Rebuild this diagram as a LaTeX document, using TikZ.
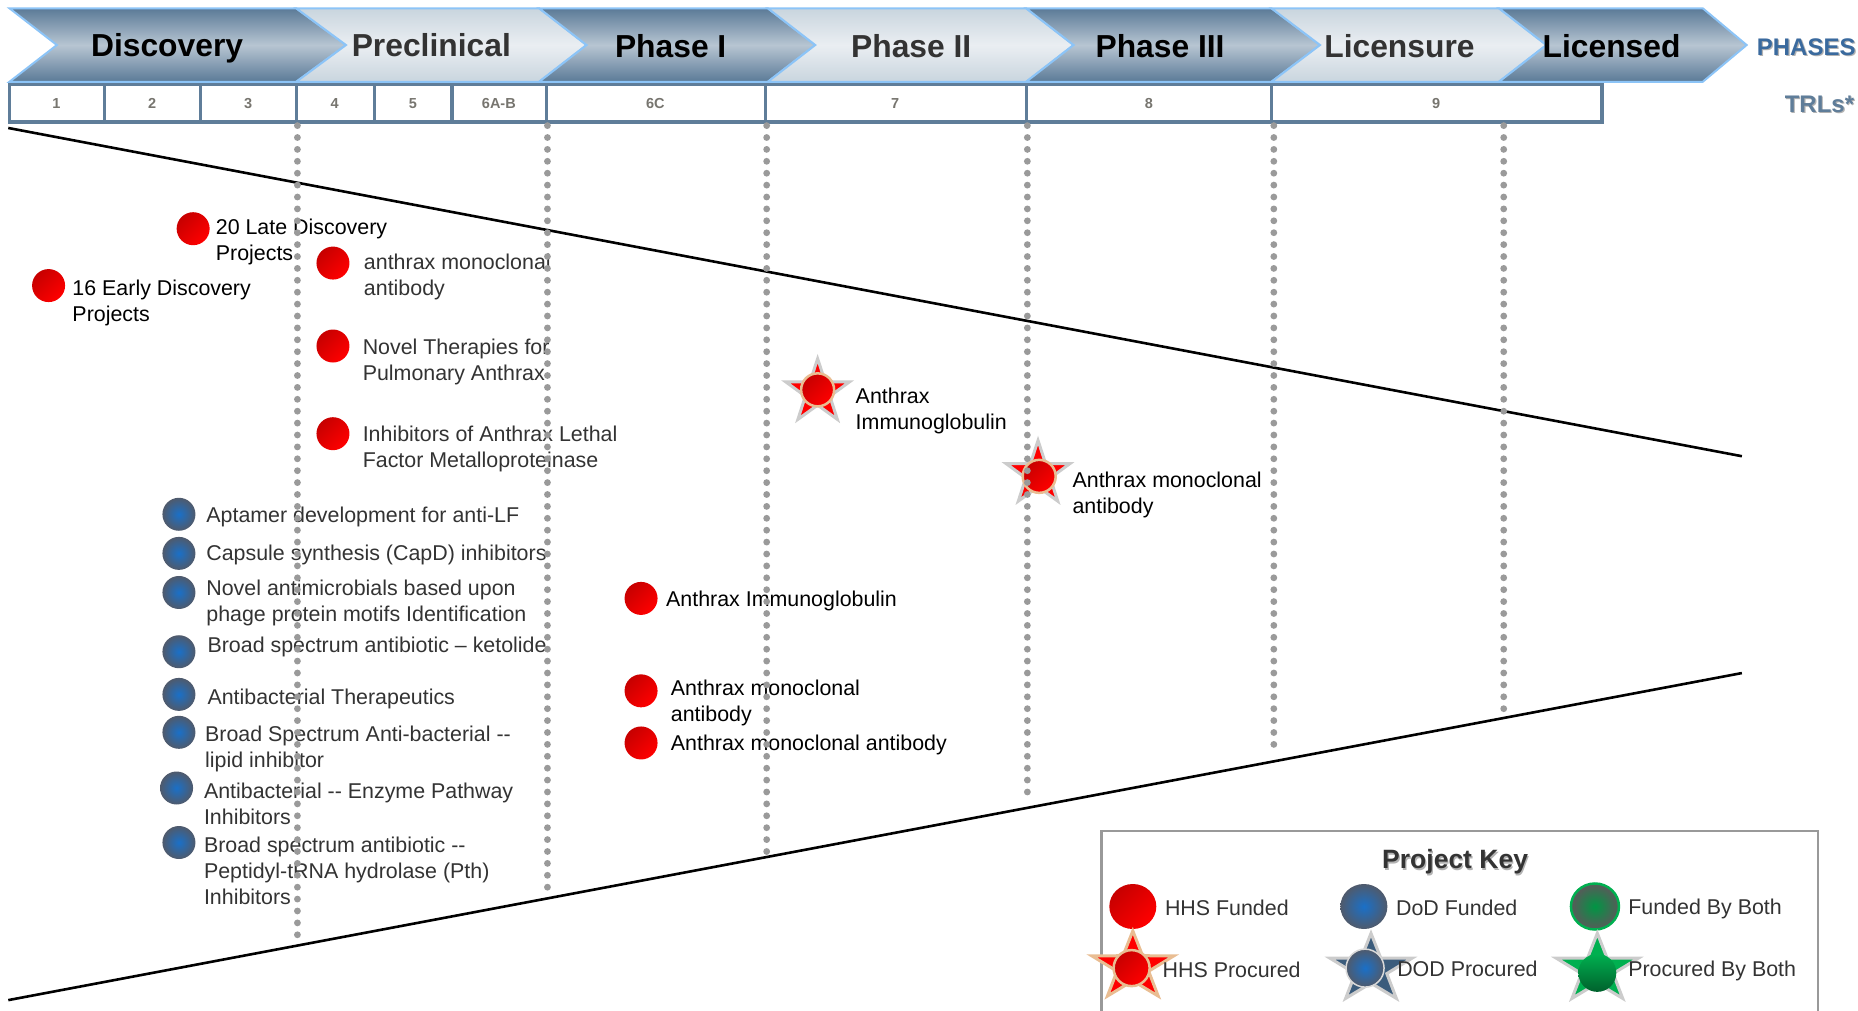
\documentclass[tikz,border=0pt]{standalone}
\usepackage{fontspec}
\setmainfont{Liberation Sans}
\usetikzlibrary{shapes.geometric}
\definecolor{chevdark}{HTML}{5B7A97}
\definecolor{chevmid}{HTML}{B7C5D2}
\definecolor{chevlt}{HTML}{C9D5DE}
\definecolor{chevltmid}{HTML}{EAEEF2}
\definecolor{chevedge}{HTML}{8CC4F7}
\definecolor{trledge}{HTML}{5F7D99}
\definecolor{trltxt}{HTML}{77756F}
\definecolor{dotgray}{HTML}{9A9A9A}
\definecolor{txtdk}{HTML}{333333}
\definecolor{tan}{HTML}{E9BD92}
\definecolor{starblue}{HTML}{3B5C7C}
\definecolor{bothgreen}{HTML}{00B050}
\definecolor{ballblue}{HTML}{1A70C8}
\definecolor{ballrim}{HTML}{4F5A6C}
\definecolor{phaseblue}{HTML}{3A6A9E}
\tikzset{
  x=1.185pt,y=-1.185pt,
  darkchev/.style={draw=chevedge,line width=2pt,line join=miter,top color=chevdark,bottom color=chevdark,middle color=chevmid},
  lightchev/.style={draw=chevedge,line width=2pt,line join=miter,top color=chevlt,bottom color=chevlt,middle color=chevltmid},
  phasetxt/.style={inner sep=0pt,font=\fontsize{31.8}{36}\selectfont\bfseries,text=black},
  phasetxtlt/.style={phasetxt,text=txtdk},
  trlbox/.style={draw=trledge,line width=3.2pt,fill=white},
  trlnum/.style={inner sep=0pt,font=\fontsize{14.5}{16}\selectfont\bfseries,text=trltxt},
  sideshadow/.style={inner sep=0pt,anchor=west,font=\fontsize{24}{28}\selectfont\bfseries,text=black!30},
  sidelabel/.style={inner sep=0pt,anchor=west,font=\fontsize{24}{28}\selectfont\bfseries},
  label/.style={inner sep=0pt,anchor=west,align=left,font=\fontsize{21.4}{26}\selectfont,text=black},
  labeldk/.style={label,text=txtdk},
  redball/.style={circle,inner sep=0pt,minimum size=33pt,left color=red!78!black,right color=red,shading angle=45},
  blueball/.style={circle,inner sep=0pt,minimum size=33pt,inner color=ballblue,outer color=ballrim},
  starmark/.style={star,star points=5,star point ratio=2.6,inner sep=0pt,minimum size=67pt,line width=3pt,line join=miter},
  redstar/.style={starmark,fill=red,draw=black!20},
  starball/.style={redball,draw=tan,line width=2.5pt,minimum size=33pt},
  lstar/.style={star,star points=5,star point ratio=2.6,inner sep=0pt,minimum size=72pt,line width=3pt,transform shape,xscale=1.2},
  keytxt/.style={label,text=txtdk},
  guide/.style={draw=dotgray,line width=6.8pt,line cap=round,dash pattern=on 0pt off 11.9pt},
  taper/.style={draw=black,line width=2.6pt},
}
\begin{document}
\begin{tikzpicture}
\useasboundingbox[fill=white] (0,0) rectangle (1568,853);
% phase chevrons
\path[darkchev] (8,7)--(250,7)--(292,38)--(250,69)--(8,69)--(48,38)--cycle;
\path[lightchev] (250,7)--(455,7)--(495,38)--(455,69)--(250,69)--(292,38)--cycle;
\path[darkchev] (455,7)--(648,7)--(688,38)--(648,69)--(455,69)--(495,38)--cycle;
\path[lightchev] (648,7)--(866,7)--(906,38)--(866,69)--(648,69)--(688,38)--cycle;
\path[darkchev] (866,7)--(1073,7)--(1114,38)--(1073,69)--(866,69)--(906,38)--cycle;
\path[lightchev] (1073,7)--(1265,7)--(1305,38)--(1265,69)--(1073,69)--(1114,38)--cycle;
\path[darkchev] (1265,7)--(1437,7)--(1474,38)--(1437,69)--(1265,69)--(1305,38)--cycle;
\node[phasetxt] (pDiscovery) at (141,40.5) {Discovery};
\node[phasetxtlt] (pPreclinical) at (364,38) {Preclinical};
\node[phasetxt] (pOne) at (566,39) {Phase I};
\node[phasetxtlt] (pTwo) at (769,39) {Phase II};
\node[phasetxt] (pThree) at (979,39) {Phase III};
\node[phasetxtlt] (pLicensure) at (1181,39) {Licensure};
\node[phasetxt] (pLicensed) at (1360,39) {Licensed};
% TRL boxes
\foreach \a/\b in {8/88.5,88.5/169.5,169.5/250,250/316,316/381.5,381.5/461,461/646,646/866,866/1073,1073/1352}
  \draw[trlbox] (\a,71) rectangle (\b,103);
\node[trlnum] (t1) at (47.5,87.5) {1};
\node[trlnum] (t2) at (128.5,87.5) {2};
\node[trlnum] (t3) at (209.5,87.5) {3};
\node[trlnum] (t4) at (282.5,87.5) {4};
\node[trlnum] (t5) at (348.5,87.5) {5};
\node[trlnum] (t6) at (421,87.5) {6A-B};
\node[trlnum] (t6c) at (553,87.5) {6C};
\node[trlnum] (t7) at (755.5,87.5) {7};
\node[trlnum] (t8) at (969.5,87.5) {8};
\node[trlnum] (t9) at (1212,87.5) {9};
% side labels
\node[sideshadow] (phasesS) at (1483.5,41) {PHASES};
\node[sidelabel,text=phaseblue] (phases) at (1482.5,40) {PHASES};
\node[sideshadow] (trlsS) at (1507,89) {TRLs*};
\node[sidelabel,text=trledge] (trls) at (1506,88) {TRLs*};
% tapering lines
\coordinate (tl) at (7,108); \coordinate (tr) at (1470,385);
\coordinate (bl) at (7,844); \coordinate (br) at (1470,568);
\draw[taper] (tl) -- (tr);
\draw[taper] (bl) -- (br);
% HHS funded
\node[redball] (r1) at (163,193) {};
\node[label] (lr1) at (182,204.5) {20 Late Discovery\\Projects};
\node[redball] (r2) at (41,241) {};
\node[label] (lr2) at (61,256) {16 Early Discovery\\Projects};
\node[redball] (r3) at (281,222) {};
\node[labeldk] (lr3) at (307,234) {anthrax monoclonal\\antibody};
\node[redball] (r4) at (281,292) {};
\node[labeldk] (lr4) at (306,305.5) {Novel Therapies for\\Pulmonary Anthrax};
\node[redball] (r5) at (281,366) {};
\node[labeldk] (lr5) at (306,379) {Inhibitors of Anthrax Lethal\\Factor Metalloproteinase};
\node[redball] (r6) at (541,505) {};
\node[label] (lr6) at (562,507) {Anthrax Immunoglobulin};
\node[redball] (r7) at (541,583) {};
\node[label] (lr7) at (566,593.5) {Anthrax monoclonal\\antibody};
\node[redball] (r8) at (541,627) {};
\node[label] (lr8) at (566,629) {Anthrax monoclonal antibody};
% DoD funded
\node[blueball] (b1) at (151,434) {};
\node[labeldk] (lb1) at (174,436.5) {Aptamer development for anti-LF};
\node[blueball] (b2) at (151,467) {};
\node[labeldk] (lb2) at (174,468.5) {Capsule synthesis (CapD) inhibitors};
\node[blueball] (b3) at (151,500) {};
\node[labeldk] (lb3) at (174,508.5) {Novel antimicrobials based upon\\phage protein motifs Identification};
\node[blueball] (b4) at (151,550) {};
\node[labeldk] (lb4) at (175,546) {Broad spectrum antibiotic – ketolide};
\node[blueball] (b5) at (151,586) {};
\node[labeldk] (lb5) at (175,590) {Antibacterial Therapeutics};
\node[blueball] (b6) at (151,618) {};
\node[labeldk] (lb6) at (173,632) {Broad Spectrum Anti-bacterial -{}-\\lipid inhibitor};
\node[blueball] (b7) at (149,665) {};
\node[labeldk] (lb7) at (172,678) {Antibacterial -{}- Enzyme Pathway\\Inhibitors};
\node[blueball] (b8) at (151,711) {};
\node[labeldk] (lb8) at (172,735) {Broad spectrum antibiotic -{}-\\Peptidyl-tRNA hydrolase (Pth)\\Inhibitors};
% HHS procured
\node[redstar] (s1) at (690,331) {};
\node[starball] (s1c) at (690,329) {};
\node[label] (ls1) at (722,346.5) {Anthrax\\Immunoglobulin};
\node[redstar] (s2) at (876,400) {};
\node[starball] (s2c) at (877,402) {};
\node[label] (ls2) at (905,417.5) {Anthrax monoclonal\\antibody};
% dotted guides
\foreach \n/\x/\y in {a/251/797,b/462/757,c/647/720,d/867/678,e/1075/638,f/1269/606}{
  \coordinate (g\n t) at (\x,106);
  \coordinate (g\n b) at (\x,\y);
  \path[guide] (g\n t) -- (g\n b);
}
% key
\draw[draw=black!40,line width=2.4pt,fill=white] (929.5,701.5) rectangle (1534,860);
\node[inner sep=0pt,font=\fontsize{26.5}{28}\selectfont\bfseries,text=black!30] (keyS) at (1229,729) {Project Key};
\node[inner sep=0pt,font=\fontsize{26.5}{28}\selectfont\bfseries,text=txtdk] (key) at (1228,727.5) {Project Key};
\node[redball,ellipse,minimum width=47pt,minimum height=45pt] (k1) at (956,765) {};
\node[keytxt] (lk1) at (983,766) {HHS Funded};
\node[blueball,ellipse,minimum width=47pt,minimum height=45pt] (k2) at (1151,765) {};
\node[keytxt] (lk2) at (1178,766) {DoD Funded};
\node[ellipse,inner sep=0pt,minimum width=48pt,minimum height=46pt,draw=bothgreen,line width=2.5pt,inner color=bothgreen!85!black,outer color=black!65] (k3) at (1346,765) {};
\node[keytxt] (lk3) at (1374,767) {Funded By Both};
\node[lstar,fill=red,draw=tan] (k4) at (956,816) {};
\node[starball,ellipse,minimum width=36pt,minimum height=36pt] (k4c) at (955,817) {};
\node[keytxt] (lk4) at (981,818.5) {HHS Procured};
\node[lstar,fill=starblue,draw=black!20] (k5) at (1157,818) {};
\node[blueball,ellipse,draw=black!15,line width=1.5pt,minimum width=38pt,minimum height=38pt] (k5c) at (1152,817) {};
\node[keytxt] (lk5) at (1179,817.5) {DOD Procured};
\node[lstar,fill=bothgreen,draw=black!20] (k6) at (1348,818) {};
\node[ellipse,inner sep=0pt,minimum width=38pt,minimum height=38pt,top color=bothgreen,bottom color=bothgreen!55!black] (k6c) at (1348,821) {};
\node[keytxt] (lk6) at (1374,819) {Procured By Both};
\end{tikzpicture}
\end{document}
